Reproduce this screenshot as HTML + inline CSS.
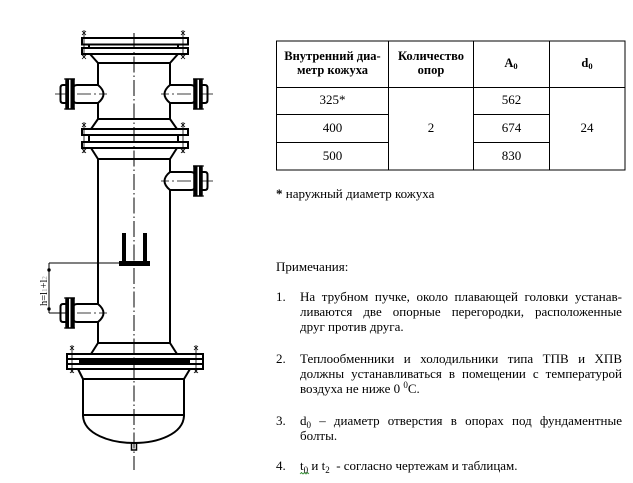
<!DOCTYPE html>
<html><head><meta charset="utf-8">
<style>
html,body{margin:0;padding:0;background:#fff;}
body{width:633px;height:483px;position:relative;overflow:hidden;font-family:"Liberation Serif","Noto Serif CJK SC",serif;color:#000;}
.t{position:absolute;font-size:13px;line-height:15px;white-space:nowrap;}
.j{display:flex;justify-content:space-between;width:322px;}
.sb{font-size:9px;position:relative;top:3px;}
.sp{font-size:9px;position:relative;top:-5px;}
</style></head><body>
<svg width="633" height="483" viewBox="0 0 633 483" style="position:absolute;left:0;top:0" xmlns="http://www.w3.org/2000/svg">
<defs>
<g id="noz" fill="none" stroke="#000">
  <path d="M0,-9 H-21 Q-25,-9 -25,-5 V5 Q-25,9 -21,9 H0" stroke-width="2"/>
  <path d="M0,-9 Q11,0 0,9" stroke-width="2"/>
  <rect x="-32" y="-15" width="8" height="30" stroke-width="1.5"/>
  <rect x="-32" y="-15" width="3" height="30" fill="#000" stroke="none"/>
  <rect x="-27.5" y="-15" width="3" height="30" fill="#000" stroke="none"/>
  <line x1="-34" y1="-15" x2="-23" y2="-15" stroke-width="1"/>
  <line x1="-34" y1="15" x2="-23" y2="15" stroke-width="1"/>
  <path d="M-32,-9 H-35 Q-37.5,-9 -37.5,-6 V6 Q-37.5,9 -35,9 H-32" stroke-width="2"/>
  <path d="M-43,0 H9" stroke-width="0.8" stroke-dasharray="14 3 2 3"/>
</g>
<g id="bx" stroke="#000" stroke-width="0.8" fill="none">
  <path d="M-2,-2 L2,2 M-2,2 L2,-2"/>
</g>
</defs>

<!-- centerline -->
<path d="M134,33 V470" stroke="#000" stroke-width="1" stroke-dasharray="16 3 1.5 3" fill="none"/>

<g fill="none" stroke="#000" stroke-width="2">
  <!-- top flange -->
  <rect x="82" y="38" width="106" height="6.5"/>
  <rect x="82" y="48" width="106" height="6"/>
  <path d="M89,44 V48 M178,44 V48"/>
  <!-- top neck -->
  <path d="M90,54 L98,63 M178,54 L170,63"/>
  <path d="M98,63 H170"/>
  <path d="M98,63 V85 M98,103 V119 M170,63 V85 M170,103 V119"/>
  <path d="M98,119 H170"/>
  <path d="M98,119 L91,129 M170,119 L177,129"/>
  <!-- second flange -->
  <rect x="82" y="129" width="106" height="6"/>
  <rect x="82" y="142" width="106" height="6"/>
  <path d="M89,135 V142 M178,135 V142"/>
  <path d="M91,148 L98,159 M177,148 L170,159"/>
  <path d="M98,159 H170"/>
  <!-- shell -->
  <path d="M98,159 V304 M98,322 V343"/>
  <path d="M170,159 V172 M170,190 V343"/>
  <path d="M98,343 H170"/>
  <path d="M98,343 L91,354 M170,343 L177,354"/>
  <!-- lower flange -->
  <rect x="67" y="354" width="136" height="15"/>
  <path d="M67,359 H203 M67,364 H203"/>
  <path d="M78,369 L83,379 M190,369 L184,379"/>
  <path d="M83,379 H184"/>
  <path d="M83,379 V416 M184,379 V416"/>
  <path d="M83,415 H184"/>
  <path d="M83,416 C84,434 110,443 134,443 C158,443 183,434 184,416"/>
  <rect x="131.5" y="443" width="5" height="7" stroke-width="1.5"/>
</g>
<rect x="79" y="359" width="111" height="5" fill="#000"/>

<!-- bolts -->
<g stroke="#000" stroke-width="0.8" fill="none">
  <path d="M84,30 V58 M183,30 V58"/>
  <path d="M84,122 V153 M183,122 V153"/>
  <path d="M72,345 V373 M196,345 V373"/>
</g>
<use href="#bx" x="84" y="33"/><use href="#bx" x="84" y="57"/>
<use href="#bx" x="183" y="33"/><use href="#bx" x="183" y="57"/>
<use href="#bx" x="84" y="125"/><use href="#bx" x="84" y="151"/>
<use href="#bx" x="183" y="125"/><use href="#bx" x="183" y="151"/>
<use href="#bx" x="72" y="348"/><use href="#bx" x="72" y="371"/>
<use href="#bx" x="196" y="348"/><use href="#bx" x="196" y="371"/>

<!-- nozzles -->
<use href="#noz" transform="translate(98,94)"/>
<use href="#noz" transform="translate(170,94) scale(-1,1)"/>
<use href="#noz" transform="translate(170,181) scale(-1,1)"/>
<use href="#noz" transform="translate(98,313)"/>

<!-- support bracket -->
<rect x="122" y="233" width="4" height="30" fill="#000"/>
<rect x="143" y="233" width="4" height="30" fill="#000"/>
<rect x="119" y="261" width="31" height="5" fill="#000"/>

<!-- dimension -->
<g stroke="#000" stroke-width="1" fill="none">
  <path d="M49,263 H119 M49,263 V313 M49,313 H66"/>
</g>
<circle cx="49" cy="270" r="1.7" fill="#000"/>
<circle cx="49" cy="309" r="1.7" fill="#000"/>
<text transform="translate(47,306) rotate(-90)" font-family="Liberation Serif, serif" font-size="10.5" fill="#000">h=l<tspan fill="#999" font-size="7">1</tspan>+l<tspan fill="#999" font-size="7">2</tspan></text>

<!-- table -->
<g stroke="#000" stroke-width="1" fill="none">
  <rect x="276.5" y="41" width="348.5" height="129"/>
  <path d="M276.5,87.5 H625 M276.5,114.5 H388.5 M473.5,114.5 H549.5 M276.5,142.5 H388.5 M473.5,142.5 H549.5"/>
  <path d="M388.5,41 V170 M473.5,41 V170 M549.5,41 V170"/>
</g>
<g font-family="Liberation Serif, serif" fill="#000" text-anchor="middle">
  <g font-weight="bold" font-size="12.5">
    <text x="332.5" y="60">Внутренний диа-</text>
    <text x="332.5" y="74">метр кожуха</text>
    <text x="431" y="60">Количество</text>
    <text x="431" y="74">опор</text>
    <text x="511" y="67">A<tspan font-size="8.5" dy="2">0</tspan></text>
    <text x="587" y="67">d<tspan font-size="8.5" dy="2">0</tspan></text>
  </g>
  <g font-size="13">
    <text x="332.5" y="104">325*</text>
    <text x="332.5" y="132">400</text>
    <text x="332.5" y="160">500</text>
    <text x="431" y="132">2</text>
    <text x="511.5" y="104">562</text>
    <text x="511.5" y="132">674</text>
    <text x="511.5" y="160">830</text>
    <text x="587" y="132">24</text>
  </g>
</g>
<!-- spell-check squiggle -->
<path d="M300,474 l1.5,-1.5 l1.5,1.5 l1.5,-1.5 l1.5,1.5 l1.5,-1.5 l1.5,1.5" stroke="#2a8a2a" stroke-width="0.8" fill="none"/>
</svg>

<div class="t" style="left:276px;top:186px"><b>*</b> наружный диаметр кожуха</div>

<div class="t" style="left:276px;top:259px">Примечания:</div>

<div class="t" style="left:276px;top:289px">1.</div>
<div class="t j" style="left:300px;top:289px"><span>На</span><span>трубном</span><span>пучке,</span><span>около</span><span>плавающей</span><span>головки</span><span>устанав-</span></div>
<div class="t j" style="left:300px;top:304px"><span>ливаются</span><span>две</span><span>опорные</span><span>перегородки,</span><span>расположенные</span></div>
<div class="t" style="left:300px;top:319px">друг против друга.</div>

<div class="t" style="left:276px;top:351px">2.</div>
<div class="t j" style="left:300px;top:351px"><span>Теплообменники</span><span>и</span><span>холодильники</span><span>типа</span><span>ТПВ</span><span>и</span><span>ХПВ</span></div>
<div class="t j" style="left:300px;top:366px"><span>должны</span><span>устанавливаться</span><span>в</span><span>помещении</span><span>с</span><span>температурой</span></div>
<div class="t" style="left:300px;top:381px">воздуха не ниже 0 <span class="sp">0</span>С.</div>

<div class="t" style="left:276px;top:413px">3.</div>
<div class="t j" style="left:300px;top:413px"><span>d<span class="sb">0</span></span><span>–</span><span>диаметр</span><span>отверстия</span><span>в</span><span>опорах</span><span>под</span><span>фундаментные</span></div>
<div class="t" style="left:300px;top:428px">болты.</div>

<div class="t" style="left:276px;top:458px">4.</div>
<div class="t" style="left:300px;top:458px">t<span class="sb">0</span> и t<span class="sb">2</span>&nbsp; - согласно чертежам и таблицам.</div>
</body></html>
